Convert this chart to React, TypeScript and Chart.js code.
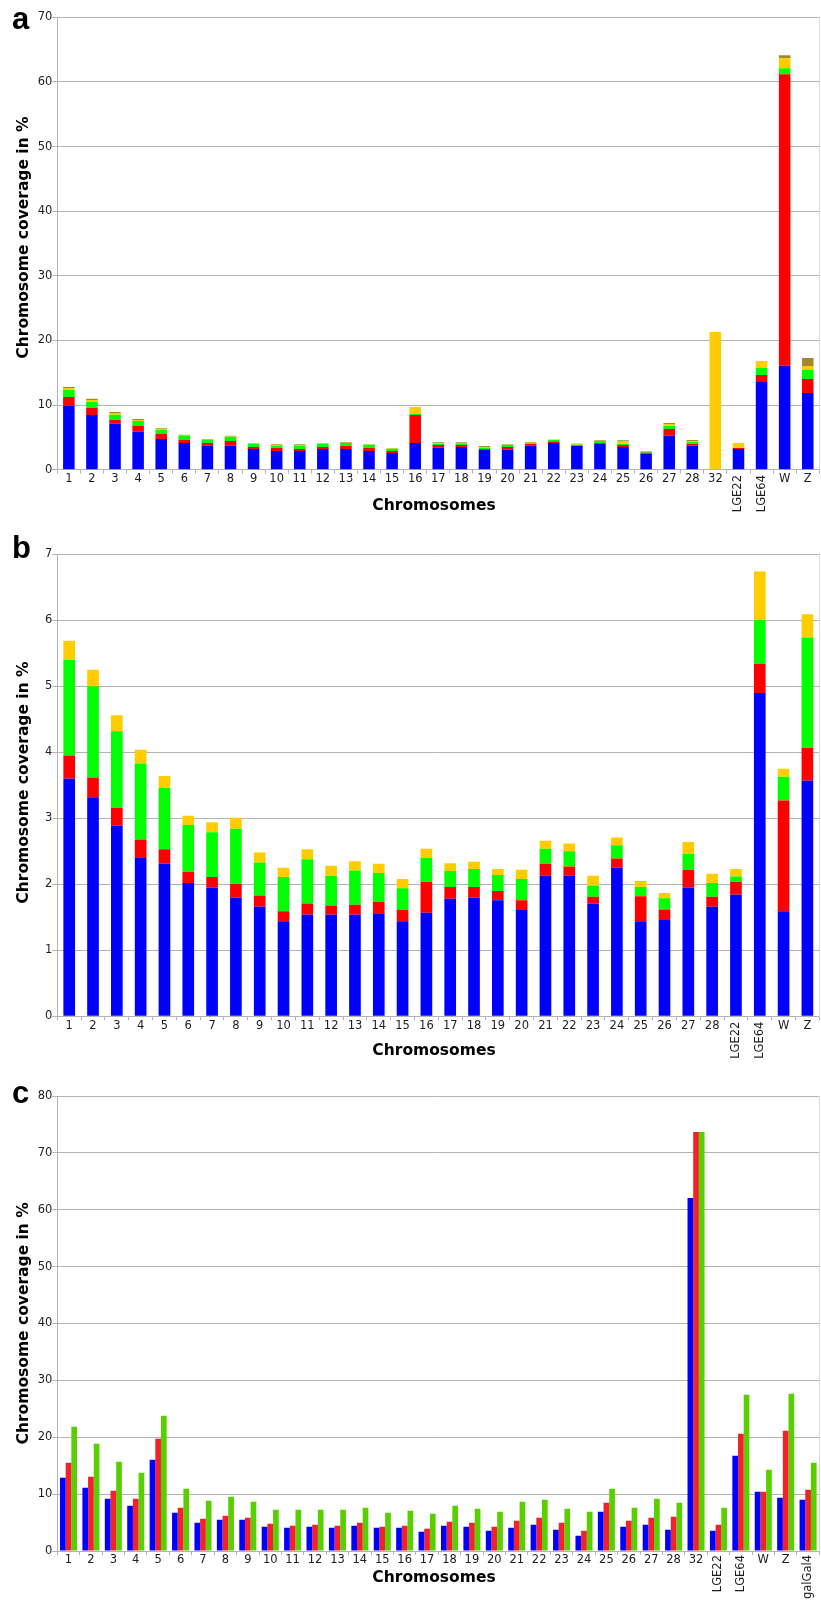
import React, { useEffect, useRef } from "react";
import { Chart, registerables } from "chart.js";

Chart.register(...registerables);

// ---------- Panel a ----------
const categoriesA = ["1","2","3","4","5","6","7","8","9","10","11","12","13","14","15","16","17","18","19","20","21","22","23","24","25","26","27","28","32","LGE22","LGE64","W","Z"];
const blueA   = [9.9,8.45,7.11,5.88,4.74,4.12,3.71,3.71,3.19,2.89,2.89,3.19,3.19,2.89,2.58,4.12,3.4,3.5,3.09,3.09,3.71,4.12,3.71,4.02,3.5,2.47,5.26,3.71,0,3.19,13.56,16.08,11.86];
const redA    = [1.34,1.14,0.62,0.92,0.83,0.46,0.41,0.73,0.31,0.52,0.3,0.31,0.52,0.52,0.31,4.33,0.41,0.31,0.1,0.41,0.31,0.26,0.05,0.1,0.31,0.15,1.03,0.31,0,0.16,1.08,45.11,2.16];
const greenA  = [1.08,0.93,0.78,0.73,0.62,0.73,0.52,0.67,0.46,0.35,0.57,0.46,0.41,0.46,0.35,0.21,0.2,0.2,0.21,0.36,0.05,0.2,0.15,0.31,0.2,0.16,0.51,0.31,0,0,1.08,0.92,1.39];
const yellowA = [0.31,0.25,0.25,0.15,0.16,0.05,0.05,0.05,0.05,0.11,0.1,0.05,0.05,0.05,0.06,1.03,0.1,0.05,0.1,0.05,0.1,0.05,0.1,0.05,0.41,0.05,0.26,0.1,21.29,0.77,1.08,1.55,0.62];
const oliveA  = [0.15,0.21,0.16,0.16,0.1,0.05,0.05,0.1,0.1,0.1,0.1,0.1,0.1,0.05,0.05,0,0.15,0.2,0.15,0.05,0.1,0.05,0.06,0.1,0.15,0.05,0.16,0.15,0,0,0,0.46,1.24];
const yTicksA = [0,10,20,30,40,50,60,70];

// ---------- Panel b ----------
const categoriesB = ["1","2","3","4","5","6","7","8","9","10","11","12","13","14","15","16","17","18","19","20","21","22","23","24","25","26","27","28","LGE22","LGE64","W","Z"];
const blueB   = [3.6,3.32,2.89,2.4,2.31,2.02,1.95,1.8,1.66,1.44,1.54,1.54,1.54,1.55,1.44,1.57,1.78,1.8,1.76,1.61,2.13,2.13,1.71,2.25,1.44,1.47,1.95,1.66,1.84,4.9,1.59,3.57];
const redB    = [0.35,0.3,0.27,0.28,0.22,0.17,0.16,0.21,0.17,0.15,0.17,0.14,0.15,0.18,0.17,0.47,0.18,0.16,0.14,0.15,0.18,0.14,0.1,0.14,0.38,0.15,0.27,0.15,0.2,0.44,1.68,0.5];
const greenB  = [1.45,1.38,1.16,1.15,0.93,0.71,0.68,0.83,0.5,0.52,0.67,0.45,0.52,0.44,0.33,0.36,0.24,0.27,0.24,0.32,0.23,0.23,0.17,0.2,0.14,0.17,0.24,0.21,0.08,0.67,0.36,1.67];
const yellowB = [0.29,0.25,0.24,0.21,0.18,0.14,0.15,0.17,0.15,0.14,0.15,0.15,0.14,0.14,0.14,0.14,0.12,0.11,0.09,0.14,0.12,0.12,0.15,0.12,0.09,0.08,0.18,0.14,0.11,0.73,0.12,0.35];
const yTicksB = [0,1,2,3,4,5,6,7];

// ---------- Panel c ----------
const categoriesC = ["1","2","3","4","5","6","7","8","9","10","11","12","13","14","15","16","17","18","19","20","21","22","23","24","25","26","27","28","32","LGE22","LGE64","W","Z","galGal4"];
const blueC  = [12.9,11.14,9.2,7.97,16.06,6.74,4.98,5.51,5.51,4.28,4.1,4.28,4.1,4.45,4.1,4.1,3.4,4.45,4.28,3.58,4.1,4.63,3.75,2.7,6.92,4.28,4.63,3.75,62.08,3.58,16.76,10.43,9.38,9.03];
const redC   = [15.53,13.07,10.61,9.2,19.75,7.62,5.69,6.21,5.86,4.81,4.45,4.63,4.45,4.98,4.28,4.45,3.93,5.16,4.98,4.28,5.33,5.86,4.98,3.58,8.5,5.33,5.86,6.04,73.68,4.63,20.63,10.43,21.16,10.79];
const greenC = [21.86,18.87,15.71,13.77,23.8,10.96,8.85,9.55,8.68,7.27,7.27,7.27,7.27,7.62,6.74,7.09,6.56,7.97,7.44,6.92,8.68,9.03,7.44,6.92,10.96,7.62,9.2,8.5,73.68,7.62,27.49,14.3,27.67,15.53];
const yTicksC = [0,10,20,30,40,50,60,70,80];

const rotatedLabels = ["LGE22", "LGE64", "galGal4"];

const FONT = '"DejaVu Sans", sans-serif';
const GRID = "#b3b3b3";
const TEXT = "#1e1e1e";

type PanelSpec = {
  letter: string;
  top: number;
  height: number;
  padTop: number;
  xHeight: number;
  yTicks: number[];
  categories: string[];
  datasets: any[];
  stacked: boolean;
  barPct: number;
  catPct: number;
  letterY: number;
  yTitleY: number;
  xTitleY: number;
  rotOffset: number;
};

function Panel({ spec }: { spec: PanelSpec }) {
  const ref = useRef<HTMLCanvasElement | null>(null);
  useEffect(() => {
    if (!ref.current) return;
    const yMax = spec.yTicks[spec.yTicks.length - 1];
    const step = spec.yTicks[1] - spec.yTicks[0];
    const overlay = {
      id: "overlay",
      afterDraw(chart: any) {
        const ctx = chart.ctx;
        const area = chart.chartArea;
        const xs = chart.scales.x;
        ctx.save();
        // right border
        ctx.strokeStyle = "#dcdcdc";
        ctx.lineWidth = 1;
        ctx.beginPath();
        const rx = Math.floor(area.right) + 0.5;
        ctx.moveTo(rx, Math.floor(area.top));
        ctx.lineTo(rx, Math.ceil(area.bottom));
        ctx.stroke();
        // x labels
        ctx.fillStyle = TEXT;
        ctx.font = `11.5px ${FONT}`;
        spec.categories.forEach((lab, i) => {
          const cx = xs.getPixelForValue(i);
          if (rotatedLabels.includes(lab)) {
            ctx.save();
            ctx.translate(cx, area.bottom + spec.rotOffset);
            ctx.rotate(-Math.PI / 2);
            ctx.textAlign = "right";
            ctx.textBaseline = "middle";
            ctx.fillText(lab, 0, 0);
            ctx.restore();
          } else {
            ctx.textAlign = "center";
            ctx.textBaseline = "middle";
            ctx.fillText(lab, cx, area.bottom + 9.5);
          }
        });
        // titles
        ctx.fillStyle = "#000";
        ctx.font = `bold 15.5px ${FONT}`;
        ctx.textAlign = "center";
        ctx.textBaseline = "middle";
        ctx.fillText("Chromosomes", 434, spec.xTitleY);
        ctx.save();
        ctx.translate(23.5, spec.yTitleY);
        ctx.rotate(-Math.PI / 2);
        ctx.fillText("Chromosome coverage in %", 0, 0);
        ctx.restore();
        // panel letter
        ctx.font = `bold 31px "Liberation Sans", Arial, sans-serif`;
        ctx.textAlign = "left";
        ctx.textBaseline = "alphabetic";
        ctx.fillText(spec.letter, 12, spec.letterY);
        ctx.restore();
      },
    };
    const chart = new Chart(ref.current, {
      type: "bar",
      data: {
        labels: spec.categories,
        datasets: spec.datasets.map((d) => ({
          ...d,
          borderWidth: 0,
          barPercentage: spec.barPct,
          categoryPercentage: spec.catPct,
        })),
      },
      options: {
        animation: false,
        responsive: false,
        devicePixelRatio: 1,
        layout: { padding: { top: spec.padTop, right: 1.7, left: 0, bottom: 0 } },
        plugins: { legend: { display: false }, tooltip: { enabled: false } },
        scales: {
          x: {
            stacked: spec.stacked,
            offset: true,
            grid: { display: true, drawOnChartArea: false, drawTicks: true, tickLength: 4, color: GRID, offset: true },
            border: { color: GRID },
            ticks: { display: false },
            afterFit: (s: any) => { s.height = spec.xHeight; },
          },
          y: {
            stacked: spec.stacked,
            min: 0,
            max: yMax,
            grid: { color: GRID, drawTicks: true, tickLength: 5 },
            border: { color: GRID },
            ticks: { stepSize: step, padding: 0, color: TEXT, font: { family: FONT, size: 11.5 } },
            afterFit: (s: any) => { s.width = 57.3; },
          },
        },
      },
      plugins: [overlay],
    } as any);
    return () => chart.destroy();
  }, [spec]);
  return (
    <canvas
      ref={ref}
      width={821}
      height={spec.height}
      style={{ position: "absolute", left: 0, top: spec.top, width: 821, height: spec.height, display: "block" }}
    />
  );
}

const specA: PanelSpec = {
  letter: "a", top: 0, height: 520, padTop: 17.3, xHeight: 50.3, yTicks: yTicksA,
  categories: categoriesA, stacked: true, barPct: 0.5, catPct: 1,
  letterY: 29, yTitleY: 237.5, xTitleY: 505.7, rotOffset: 5.3,
  datasets: [
    { data: blueA, backgroundColor: "#0000ff" },
    { data: redA, backgroundColor: "#ff0000" },
    { data: greenA, backgroundColor: "#00ff00" },
    { data: yellowA, backgroundColor: "#ffcc00" },
    { data: oliveA, backgroundColor: "#a08a2e" },
  ],
};

const specB: PanelSpec = {
  letter: "b", top: 530, height: 535, padTop: 24.3, xHeight: 48.7, yTicks: yTicksB,
  categories: categoriesB, stacked: true, barPct: 0.49, catPct: 1,
  letterY: 28, yTitleY: 252.5, xTitleY: 521, rotOffset: 5.3,
  datasets: [
    { data: blueB, backgroundColor: "#0000ff" },
    { data: redB, backgroundColor: "#ff0000" },
    { data: greenB, backgroundColor: "#00ff00" },
    { data: yellowB, backgroundColor: "#ffcc00" },
  ],
};

const specC: PanelSpec = {
  letter: "c", top: 1065, height: 538, padTop: 31, xHeight: 52, yTicks: yTicksC,
  categories: categoriesC, stacked: false, barPct: 1, catPct: 0.76,
  letterY: 38, yTitleY: 258.3, xTitleY: 512.7, rotOffset: 4,
  datasets: [
    { data: blueC, backgroundColor: "#0000ff" },
    { data: redC, backgroundColor: "#f2222b" },
    { data: greenC, backgroundColor: "#58d000" },
  ],
};

export default function App() {
  return (
    <div style={{ position: "absolute", left: 0, top: 0, width: 821, height: 1603, background: "#fff" }}>
      <Panel spec={specA} />
      <Panel spec={specB} />
      <Panel spec={specC} />
    </div>
  );
}
